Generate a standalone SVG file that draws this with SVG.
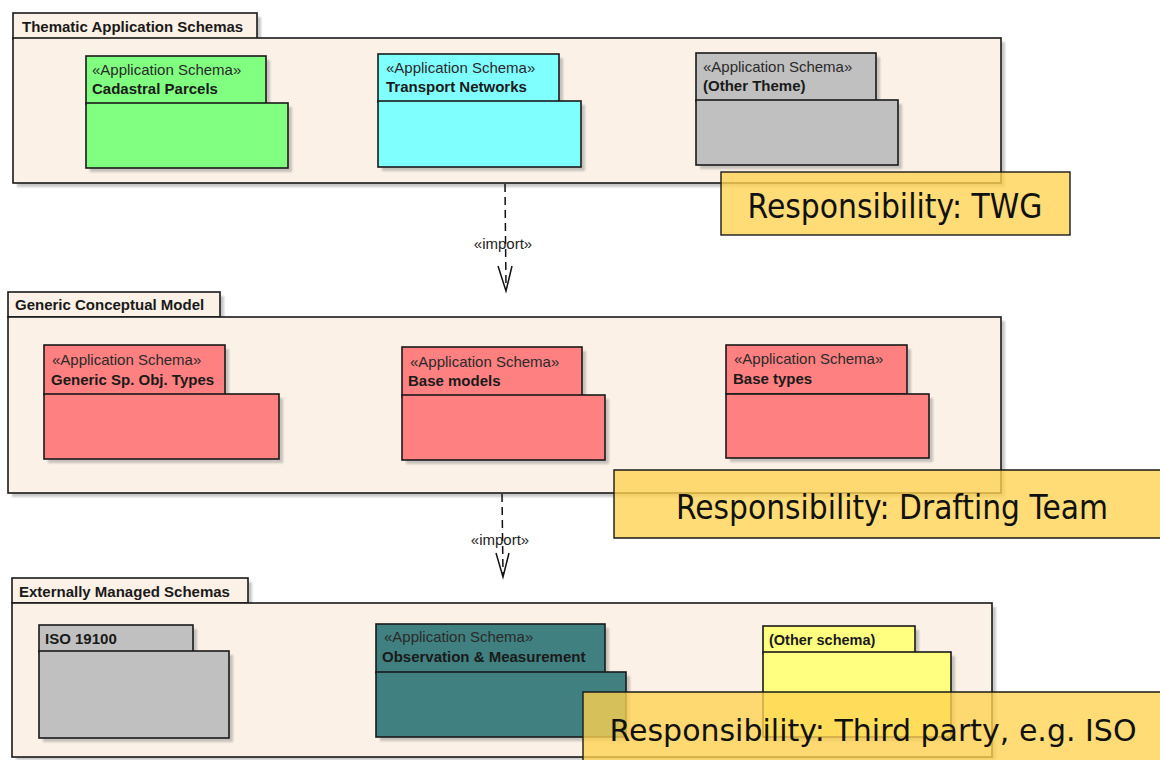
<svg xmlns="http://www.w3.org/2000/svg" width="1160" height="760" viewBox="0 0 1160 760">
  <style>
    .frame { fill: #FBF1E6; stroke: #1a1a1a; stroke-width: 1.6; }
    .pkg { stroke: #1a1a1a; stroke-width: 1.6; }
    .shadow { fill: #9a9a9a; opacity: 0.55; filter: url(#soft); }
    .title { font-family: "Liberation Sans", Arial, sans-serif; font-size: 15px; font-weight: bold; fill: #1a1a1a; }
    .stereo { font-family: "Liberation Sans", Arial, sans-serif; font-size: 15px; fill: #2a2a2a; }
    .name { font-family: "Liberation Sans", Arial, sans-serif; font-size: 15px; font-weight: bold; fill: #1a1a1a; }
    .resp { fill: #FFD24F; fill-opacity: 0.78; stroke: #1a1a1a; stroke-width: 1.4; }
    .respfill { fill: #FFD24F; fill-opacity: 0.78; }
    .respedge { fill: none; stroke: #1a1a1a; stroke-width: 1.4; }
    .resptext { font-family: "DejaVu Sans", Verdana, sans-serif; font-size: 33px; fill: #111; text-anchor: middle; }
    .dep { fill: none; stroke: #111; stroke-width: 1.5; stroke-dasharray: 8 5; }
    .head { fill: none; stroke: #111; stroke-width: 1.5; }
    .lbl { font-family: "Liberation Sans", Arial, sans-serif; font-size: 15px; fill: #222; text-anchor: middle; }
  </style>
  <defs>
    <filter id="soft" x="-5%" y="-5%" width="110%" height="110%">
      <feGaussianBlur stdDeviation="1.2"/>
    </filter>
  </defs>

  <rect width="1160" height="760" fill="#ffffff"/>

  <!-- Thematic Application Schemas -->
  <g id="thematic">
    <rect class="shadow" x="17" y="17" width="244" height="26"/>
    <rect class="shadow" x="17" y="42" width="988" height="145"/>
    <rect class="frame" x="13" y="13" width="244" height="26"/>
    <rect class="frame" x="13" y="38" width="988" height="145"/>
    <text class="title" x="22" y="32">Thematic Application Schemas</text>
  </g>
  <g id="cadastral">
    <rect class="shadow" x="90" y="60" width="180" height="48"/>
    <rect class="shadow" x="90" y="107" width="202" height="65"/>
    <rect class="pkg" fill="#80FF80" x="86" y="56" width="180" height="48"/>
    <rect class="pkg" fill="#80FF80" x="86" y="103" width="202" height="65"/>
    <text class="stereo" x="92" y="75">«Application Schema»</text>
    <text class="name" x="92" y="94">Cadastral Parcels</text>
  </g>
  <g id="transport">
    <rect class="shadow" x="382" y="58" width="181" height="48"/>
    <rect class="shadow" x="382" y="105" width="203" height="66"/>
    <rect class="pkg" fill="#80FFFF" x="378" y="54" width="181" height="48"/>
    <rect class="pkg" fill="#80FFFF" x="378" y="101" width="203" height="66"/>
    <text class="stereo" x="386" y="73">«Application Schema»</text>
    <text class="name" x="386" y="92">Transport Networks</text>
  </g>
  <g id="othertheme">
    <rect class="shadow" x="700" y="57" width="180" height="48"/>
    <rect class="shadow" x="700" y="104" width="202" height="65"/>
    <rect class="pkg" fill="#C0C0C0" x="696" y="53" width="180" height="48"/>
    <rect class="pkg" fill="#C0C0C0" x="696" y="100" width="202" height="65"/>
    <text class="stereo" x="703" y="72">«Application Schema»</text>
    <text class="name" x="703" y="91">(Other Theme)</text>
  </g>

  <!-- Generic Conceptual Model -->
  <g id="gcm">
    <rect class="shadow" x="12" y="296" width="212" height="25"/>
    <rect class="shadow" x="12" y="321" width="993" height="176"/>
    <rect class="frame" x="8" y="292" width="212" height="25"/>
    <rect class="frame" x="8" y="317" width="993" height="176"/>
    <text class="title" x="15" y="310">Generic Conceptual Model</text>
  </g>
  <g id="gsot">
    <rect class="shadow" x="48" y="349" width="181" height="50"/>
    <rect class="shadow" x="48" y="398" width="235" height="65"/>
    <rect class="pkg" fill="#FF8080" x="44" y="345" width="181" height="50"/>
    <rect class="pkg" fill="#FF8080" x="44" y="394" width="235" height="65"/>
    <text class="stereo" x="52" y="365">«Application Schema»</text>
    <text class="name" x="51" y="385">Generic Sp. Obj. Types</text>
  </g>
  <g id="basemodels">
    <rect class="shadow" x="406" y="351" width="180" height="50"/>
    <rect class="shadow" x="406" y="399" width="203" height="65"/>
    <rect class="pkg" fill="#FF8080" x="402" y="347" width="180" height="50"/>
    <rect class="pkg" fill="#FF8080" x="402" y="395" width="203" height="65"/>
    <text class="stereo" x="410" y="367">«Application Schema»</text>
    <text class="name" x="408" y="386">Base models</text>
  </g>
  <g id="basetypes">
    <rect class="shadow" x="730" y="349" width="181" height="49"/>
    <rect class="shadow" x="730" y="398" width="203" height="64"/>
    <rect class="pkg" fill="#FF8080" x="726" y="345" width="181" height="49"/>
    <rect class="pkg" fill="#FF8080" x="726" y="394" width="203" height="64"/>
    <text class="stereo" x="734" y="364">«Application Schema»</text>
    <text class="name" x="733" y="384">Base types</text>
  </g>

  <!-- Externally Managed Schemas -->
  <g id="external">
    <rect class="shadow" x="16" y="582" width="236" height="25"/>
    <rect class="shadow" x="16" y="607" width="980" height="153"/>
    <rect class="frame" x="12" y="578" width="236" height="25"/>
    <rect class="frame" x="12" y="603" width="980" height="154"/>
    <text class="title" x="19" y="597">Externally Managed Schemas</text>
  </g>
  <g id="iso19100">
    <rect class="shadow" x="43" y="629" width="154" height="27"/>
    <rect class="shadow" x="43" y="655" width="190" height="87"/>
    <rect class="pkg" fill="#C0C0C0" x="39" y="625" width="154" height="27"/>
    <rect class="pkg" fill="#C0C0C0" x="39" y="651" width="190" height="87"/>
    <text class="name" x="45" y="644">ISO 19100</text>
  </g>
  <g id="om">
    <rect class="shadow" x="380" y="628" width="229" height="49"/>
    <rect class="shadow" x="380" y="676" width="250" height="65"/>
    <rect class="pkg" fill="#408080" x="376" y="624" width="229" height="49"/>
    <rect class="pkg" fill="#408080" x="376" y="672" width="250" height="65"/>
    <text class="stereo" x="384" y="642">«Application Schema»</text>
    <text class="name" x="382" y="662">Observation &amp; Measurement</text>
  </g>
  <g id="otherschema">
    <rect class="shadow" x="767" y="630" width="152" height="27"/>
    <rect class="shadow" x="767" y="656" width="188" height="85"/>
    <rect class="pkg" fill="#FFFF80" x="763" y="626" width="152" height="27"/>
    <rect class="pkg" fill="#FFFF80" x="763" y="652" width="188" height="85"/>
    <text class="name" x="769" y="645" style="font-size:14.5px">(Other schema)</text>
  </g>

  <!-- import dependencies -->
  <g id="connectors">
    <path class="dep" d="M505 184 L506 288"/>
    <path class="head" d="M498 266 L506 291 L512 266"/>
    <text class="lbl" x="503" y="249">«import»</text>
    <path class="dep" d="M502 494 L503 574"/>
    <path class="head" d="M496 553 L503 577 L509 553"/>
    <text class="lbl" x="500" y="545">«import»</text>
  </g>

  <!-- responsibility callouts -->
  <g id="resp-twg">
    <rect class="resp" x="721" y="172" width="349" height="63"/>
    <text class="resptext" x="895" y="218" textLength="295" lengthAdjust="spacingAndGlyphs">Responsibility: TWG</text>
  </g>
  <g id="resp-dt">
    <rect class="respfill" x="614" y="470" width="546" height="68"/>
    <path class="respedge" d="M1160 470 H614 V538 H1160"/>
    <text class="resptext" x="892" y="519" textLength="432" lengthAdjust="spacingAndGlyphs">Responsibility: Drafting Team</text>
  </g>
  <g id="resp-iso">
    <rect class="respfill" x="583" y="692" width="577" height="68"/>
    <path class="respedge" d="M1160 692 H583 V760"/>
    <text class="resptext" x="873" y="741" style="font-size:31px" textLength="527" lengthAdjust="spacingAndGlyphs">Responsibility: Third party, e.g. ISO</text>
  </g>
</svg>
